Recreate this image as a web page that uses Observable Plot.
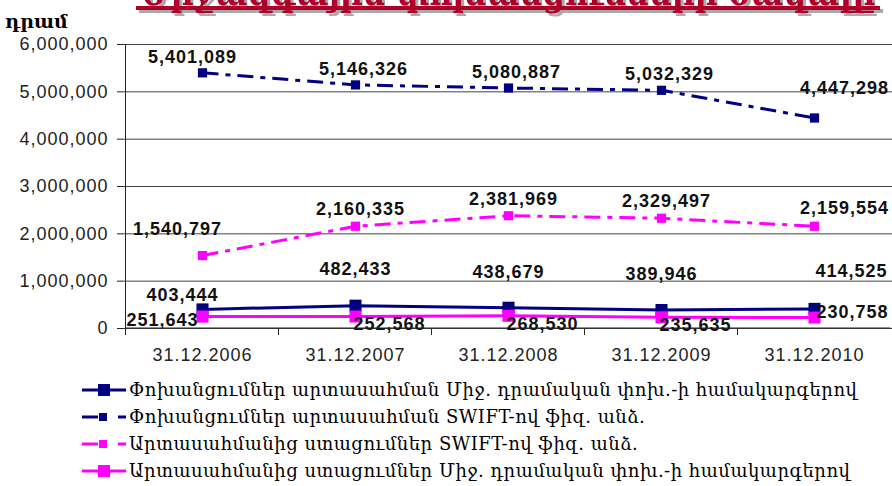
<!DOCTYPE html>
<html><head><meta charset="utf-8">
<script src="https://cdn.jsdelivr.net/npm/d3@7"></script>
<script src="https://cdn.jsdelivr.net/npm/@observablehq/plot@0.6"></script>
<style>
body{margin:0;background:#fff;width:892px;height:486px;overflow:hidden;position:relative;font-family:"Liberation Sans",Arial,sans-serif}
#title{position:absolute;left:0;top:0}
#unit{position:absolute;left:5px;top:10px;font:bold 19px "DejaVu Serif";color:#000}
#chart{position:absolute;left:0;top:0}
#legend{position:absolute;left:82px;top:376px}
.row{display:flex;align-items:center;height:27px}
.row span{font-family:"DejaVu Serif";font-size:18px;margin-left:3px;color:#000;white-space:nowrap;letter-spacing:0.5px}
</style>
</head><body>
<div id="chart"></div>
<svg id="title" width="892" height="22"></svg>
<div id="unit"></div>
<div id="legend"></div>
<script>
const titleText = "Միջազգային փոխանցումների ծավալը";
const unitLabel = "դրամ";
const categories = ["31.12.2006","31.12.2007","31.12.2008","31.12.2009","31.12.2010"];
const seriesNames = [
  "Փոխանցումներ արտասահման Միջ. դրամական փոխ.-ի համակարգերով",
  "Փոխանցումներ արտասահման SWIFT-ով ֆիզ. անձ.",
  "Արտասահմանից ստացումներ SWIFT-ով ֆիզ. անձ.",
  "Արտասահմանից ստացումներ Միջ. դրամական փոխ.-ի համակարգերով"
];
const intlSystemsOut = [403444, 482433, 438679, 389946, 414525];
const swiftOut = [5401089, 5146326, 5080887, 5032329, 4447298];
const swiftIn = [1540797, 2160335, 2381969, 2329497, 2159554];
const intlSystemsIn = [251643, 252568, 268530, 235635, 230758];
const yTicks = [0, 1000000, 2000000, 3000000, 4000000, 5000000, 6000000];

const seriesValues = [intlSystemsOut, swiftOut, swiftIn, intlSystemsIn];
const styles = [
  {color:"#000080", dash:null, r:6.8, ldx:0, ldy:-36, firstDx:-20, firstDy:-14, lastDx:37, lastDy:-38},
  {color:"#000080", dash:"16,7,5,7", r:5.2, ldx:8, ldy:-16, firstDx:-10, firstDy:-16, lastDx:30, lastDy:-30},
  {color:"#FF00FF", dash:"16,7,5,7", r:5.2, ldx:5, ldy:-17, firstDx:-25, firstDy:-26, lastDx:30, lastDy:-18},
  {color:"#FF00FF", dash:null, r:6.8, ldx:34, ldy:8, firstDx:-40, firstDy:4, lastDx:38, lastDy:-5}
];

const fmt = d3.format(",");
const last = categories.length - 1;
const marks = [
  Plot.gridY(yTicks, {stroke:"#444", strokeOpacity:1, strokeWidth:1}),
  Plot.axisY({ticks: yTicks, tickFormat: fmt, tickSize: 6, tickPadding: 9, fontSize: 18, label: null, stroke:"#222", fill:"#222"}),
  Plot.axisX({tickSize: 0, tickPadding: 20, fontSize: 18, label: null, fill:"#222"})
];
seriesValues.forEach((vals, s) => {
  const st = styles[s];
  const data = vals.map((v, i) => ({cat: categories[i], value: v, i}));
  marks.push(Plot.line(data, {x:"cat", y:"value", stroke: st.color, strokeWidth: 3, strokeDasharray: st.dash ?? undefined, strokeLinecap:"butt"}));
  marks.push(Plot.dot(data, {x:"cat", y:"value", symbol:"square", r: st.r, fill: st.color, stroke:"none"}));
  const lab = {x:"cat", y:"value", text: d => fmt(d.value), fontWeight:"bold", fontSize: 18, fill:"#111"};
  marks.push(Plot.text(data.filter(d => d.i === 0), {...lab, dx: st.firstDx, dy: st.firstDy}));
  marks.push(Plot.text(data.filter(d => d.i > 0 && d.i < last), {...lab, dx: st.ldx, dy: st.ldy}));
  marks.push(Plot.text(data.filter(d => d.i === last), {...lab, dx: st.lastDx, dy: st.lastDy}));
});

const plot = Plot.plot({
  width: 892, height: 372,
  marginLeft: 123, marginRight: 0, marginTop: 44, marginBottom: 44,
  style: {fontFamily: '"Liberation Sans", Arial, sans-serif', letterSpacing: "1px", overflow: "visible"},
  x: {type: "point", domain: categories, padding: 0.5, align: 0.5},
  y: {domain: [0, 6000000]},
  marks
});
document.getElementById("chart").appendChild(plot);

// axis line and category boundary ticks from the scales
const xs = plot.scale("x"), ys = plot.scale("y");
const svg = d3.select(plot);
const centers = categories.map(c => xs.apply(c));
const half = (centers[1] - centers[0]) / 2;
const left = centers[0] - half;
const y0 = ys.apply(0), yTop = ys.apply(6000000);
svg.append("line").attr("x1", left).attr("x2", left).attr("y1", yTop).attr("y2", y0 + 7).attr("stroke", "#222");
svg.append("line").attr("x1", left).attr("x2", centers[last] + half).attr("y1", y0).attr("y2", y0).attr("stroke", "#222");
centers.slice(0, -1).forEach(c => {
  svg.append("line").attr("x1", c + half).attr("x2", c + half).attr("y1", y0).attr("y2", y0 + 7).attr("stroke", "#222");
});

// title (mostly clipped above the page, as in the reference)
const t = d3.select("#title");
t.append("rect").attr("x", 139).attr("y", 9).attr("width", 744).attr("height", 4).attr("fill", "#aaa");
t.append("text").attr("x", 140).attr("y", 5).attr("textLength", 735).attr("lengthAdjust", "spacingAndGlyphs")
  .attr("font-family", "DejaVu Serif").attr("font-weight", "bold").attr("font-size", 40).attr("fill", "#B0002A")
  .style("filter", "drop-shadow(3px 3px 0 #aaa)").text(titleText);
t.append("rect").attr("x", 136).attr("y", 6).attr("width", 744).attr("height", 4).attr("fill", "#B0002A");
document.getElementById("unit").textContent = unitLabel;

// legend
const leg = d3.select("#legend");
[0, 1, 2, 3].forEach(s => {
  const st = styles[s];
  const row = leg.append("div").attr("class", "row");
  const sv = row.append("svg").attr("width", 44).attr("height", 16);
  if (st.dash) {
    sv.append("line").attr("x1", 0).attr("x2", 16).attr("y1", 8).attr("y2", 8).attr("stroke", st.color).attr("stroke-width", 3);
    sv.append("line").attr("x1", 36).attr("x2", 44).attr("y1", 8).attr("y2", 8).attr("stroke", st.color).attr("stroke-width", 3);
    sv.append("rect").attr("x", 17).attr("y", 4).attr("width", 8).attr("height", 8).attr("fill", st.color);
  } else {
    sv.append("line").attr("x1", 0).attr("x2", 44).attr("y1", 8).attr("y2", 8).attr("stroke", st.color).attr("stroke-width", 3);
    sv.append("rect").attr("x", 16).attr("y", 2).attr("width", 12).attr("height", 12).attr("fill", st.color);
  }
  row.append("span").text(seriesNames[s]);
});
</script>
</body></html>
